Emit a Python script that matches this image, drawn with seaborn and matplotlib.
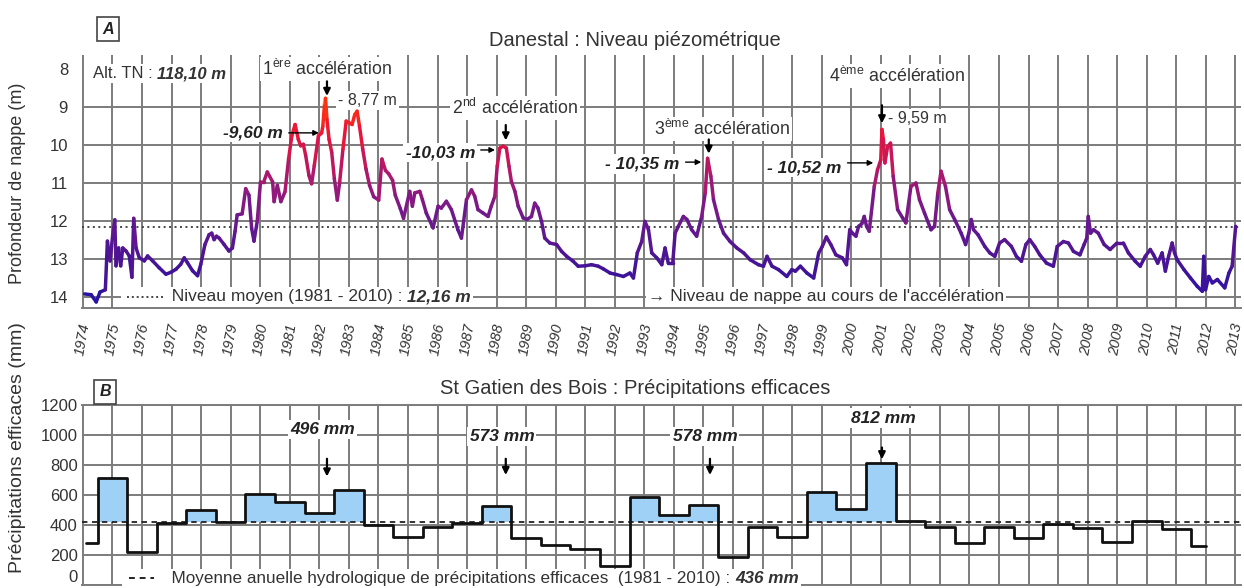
import numpy as np
import matplotlib
matplotlib.use("Agg")
import matplotlib.pyplot as plt
import seaborn as sns
from matplotlib.collections import LineCollection
from matplotlib.colors import LinearSegmentedColormap, Normalize

sns.set_theme(style="white")
plt.rcParams["font.family"] = ["Liberation Sans", "DejaVu Sans"]
plt.rcParams["mathtext.fontset"] = "custom"
plt.rcParams["mathtext.rm"] = "Liberation Sans"

# ==============================
# Data
# ==============================
# A) Danestal piezometer: depth of water table (m), decimal years
piezo_date = [
    1974.06, 1974.28, 1974.45, 1974.58, 1974.76, 1974.83, 1974.92, 1975.01, 1975.08, 1975.12,
    1975.21, 1975.28, 1975.35, 1975.46, 1975.57, 1975.66, 1975.72, 1975.80, 1975.91, 1976.08,
    1976.19, 1976.36, 1976.58, 1976.81, 1976.98, 1977.15, 1977.31, 1977.43, 1977.54, 1977.71,
    1977.88, 1977.99, 1978.13, 1978.27, 1978.36, 1978.44, 1978.52, 1978.61, 1978.78, 1978.94,
    1979.06, 1979.15, 1979.22, 1979.39, 1979.51, 1979.62, 1979.71, 1979.79, 1979.90, 1980.01,
    1980.12, 1980.24, 1980.42, 1980.47, 1980.58, 1980.70, 1980.84, 1980.96, 1981.07, 1981.18,
    1981.29, 1981.37, 1981.46, 1981.54, 1981.65, 1981.74, 1981.83, 1981.97, 1982.08, 1982.12,
    1982.18, 1982.21, 1982.26, 1982.33, 1982.42, 1982.51, 1982.61, 1982.69, 1982.80, 1982.91,
    1983.02, 1983.11, 1983.20, 1983.28, 1983.36, 1983.47, 1983.58, 1983.70, 1983.84, 1984.01,
    1984.12, 1984.24, 1984.35, 1984.48, 1984.57, 1984.74, 1984.85, 1985.06, 1985.15, 1985.23,
    1985.40, 1985.49, 1985.62, 1985.85, 1986.02, 1986.13, 1986.30, 1986.47, 1986.69, 1986.81,
    1986.98, 1987.15, 1987.26, 1987.37, 1987.54, 1987.71, 1987.82, 1987.94, 1988.02, 1988.11,
    1988.22, 1988.33, 1988.42, 1988.50, 1988.62, 1988.73, 1988.90, 1989.03, 1989.18, 1989.29,
    1989.40, 1989.52, 1989.63, 1989.80, 1990.03, 1990.20, 1990.37, 1990.59, 1990.76, 1990.99,
    1991.21, 1991.44, 1991.61, 1991.84, 1992.06, 1992.29, 1992.51, 1992.63, 1992.76, 1992.91,
    1993.02, 1993.14, 1993.25, 1993.42, 1993.59, 1993.70, 1993.81, 1993.96, 1994.04, 1994.15,
    1994.32, 1994.44, 1994.60, 1994.77, 1994.94, 1995.06, 1995.14, 1995.25, 1995.34, 1995.51,
    1995.68, 1995.90, 1996.13, 1996.36, 1996.58, 1996.86, 1997.03, 1997.15, 1997.32, 1997.54,
    1997.82, 1997.99, 1998.11, 1998.28, 1998.50, 1998.73, 1998.90, 1999.02, 1999.16, 1999.31,
    1999.48, 1999.70, 1999.84, 1999.95, 2000.04, 2000.16, 2000.25, 2000.36, 2000.44, 2000.52,
    2000.61, 2000.78, 2000.89, 2001.00, 2001.04, 2001.09, 2001.14, 2001.23, 2001.33, 2001.42,
    2001.57, 2001.74, 2001.85, 2002.02, 2002.19, 2002.31, 2002.48, 2002.70, 2002.82, 2002.93,
    2003.04, 2003.19, 2003.33, 2003.50, 2003.72, 2003.87, 2003.98, 2004.06, 2004.14, 2004.29,
    2004.52, 2004.69, 2004.86, 2005.02, 2005.19, 2005.42, 2005.59, 2005.76, 2005.91, 2006.04,
    2006.21, 2006.38, 2006.61, 2006.84, 2006.97, 2007.18, 2007.35, 2007.52, 2007.74, 2007.88,
    2007.97, 2008.02, 2008.10, 2008.20, 2008.36, 2008.56, 2008.76, 2008.99, 2009.21, 2009.38,
    2009.61, 2009.78, 2009.95, 2010.12, 2010.23, 2010.37, 2010.52, 2010.63, 2010.74, 2010.86,
    2010.94, 2011.03, 2011.26, 2011.48, 2011.71, 2011.88, 2011.93, 2011.99, 2012.10, 2012.22,
    2012.39, 2012.64, 2012.78, 2012.89, 2013.01,
]
piezo_depth = [
    13.92, 13.94, 14.13, 13.87, 13.81, 12.53, 13.05, 12.36, 11.97, 13.18,
    12.71, 13.18, 12.71, 12.79, 12.92, 13.48, 11.93, 12.71, 12.97, 13.05,
    12.92, 13.05, 13.23, 13.40, 13.35, 13.27, 13.14, 12.97, 13.10, 13.31,
    13.44, 13.14, 12.62, 12.36, 12.32, 12.49, 12.40, 12.45, 12.62, 12.79,
    12.71, 12.27, 11.84, 11.81, 11.15, 11.32, 12.19, 12.53, 12.01, 10.97,
    10.97, 10.71, 10.97, 11.49, 11.06, 11.49, 11.23, 10.37, 9.76, 9.46,
    9.85, 10.02, 9.98, 10.28, 10.80, 11.02, 10.54, 9.76, 9.68, 9.50,
    8.90, 8.77, 9.33, 9.85, 10.19, 10.89, 11.45, 10.97, 10.11, 9.37,
    9.42, 9.46, 9.20, 9.11, 9.50, 10.11, 10.63, 11.06, 11.36, 11.45,
    10.37, 10.67, 10.76, 10.93, 11.32, 11.67, 11.93, 11.22, 11.61, 11.26,
    11.22, 11.44, 11.79, 12.18, 11.61, 11.66, 11.48, 11.70, 12.23, 12.45,
    11.44, 11.18, 11.35, 11.70, 11.79, 11.88, 11.61, 11.35, 10.56, 10.08,
    10.03, 10.08, 10.56, 10.96, 11.22, 11.61, 11.92, 11.96, 11.88, 11.53,
    11.66, 12.01, 12.45, 12.58, 12.62, 12.80, 12.93, 13.06, 13.19, 13.18,
    13.15, 13.19, 13.26, 13.37, 13.41, 13.46, 13.37, 13.50, 12.84, 12.54,
    12.01, 12.23, 12.84, 12.97, 13.15, 12.71, 13.11, 13.11, 12.32, 12.14,
    11.88, 11.96, 12.23, 12.40, 11.88, 11.26, 10.35, 10.82, 11.44, 11.96,
    12.32, 12.54, 12.71, 12.84, 13.02, 13.15, 13.19, 12.93, 13.19, 13.28,
    13.46, 13.28, 13.32, 13.19, 13.37, 13.50, 12.84, 12.67, 12.42, 12.62,
    12.89, 12.97, 13.15, 12.23, 12.32, 12.40, 12.14, 12.07, 11.88, 12.14,
    12.27, 11.09, 10.65, 10.39, 9.59, 9.86, 10.47, 10.04, 9.95, 10.82,
    11.70, 11.92, 12.05, 11.09, 11.00, 11.44, 11.79, 12.23, 12.14, 11.26,
    10.69, 11.09, 11.70, 11.96, 12.32, 12.62, 12.32, 11.96, 12.23, 12.36,
    12.67, 12.84, 12.93, 12.58, 12.49, 12.67, 12.93, 13.06, 12.62, 12.49,
    12.67, 12.89, 13.11, 13.19, 12.67, 12.54, 12.58, 12.80, 12.89, 12.62,
    12.45, 11.88, 12.32, 12.23, 12.32, 12.62, 12.75, 12.58, 12.58, 12.84,
    13.06, 13.19, 12.93, 12.75, 12.89, 13.11, 12.84, 13.32, 12.93, 12.58,
    12.84, 13.02, 13.28, 13.50, 13.72, 13.85, 12.93, 13.81, 13.46, 13.63,
    13.54, 13.76, 13.37, 13.19, 12.14,
]
depth_mean = 12.16  # Niveau moyen 1981-2010

# B) St Gatien des Bois: effective rainfall per hydrological year (starts mid-year)
pe_year = list(range(1973, 2012))
pe_mm = [
    280, 715, 222, 412, 500, 418, 607, 551, 480, 633,
    400, 322, 389, 416, 525, 311, 267, 240, 127, 589,
    464, 535, 189, 384, 322, 622, 507, 816, 425, 389,
    278, 384, 311, 407, 378, 289, 425, 371, 260,
]
pe_first_start = 1974.1
pe_last_end = 2012.0
pe_mean_line = 418   # drawn dashed mean (labelled 436 mm)

years = list(range(1974, 2014))
depth_ticks = [8, 9, 10, 11, 12, 13, 14]
pe_ticks = [0, 200, 400, 600, 800, 1000, 1200]

# ==============================
# Figure / axes (pixel layout of the 1244x588 original)
# ==============================
W, H = 1244, 588
fig = plt.figure(figsize=(W / 100, H / 100), dpi=100)


def axes_px(x0, y0, x1, y1):
    return fig.add_axes([x0 / W, 1 - y1 / H, (x1 - x0) / W, (y1 - y0) / H])


ax1 = axes_px(82, 55, 1241, 308)
ax2 = axes_px(82, 405, 1241, 585)

GRID = "#7c7c7c"
TXT = "#333333"
WBOX = dict(facecolor="white", edgecolor="none", pad=1.5)
XLIM = (1973.97, 2013.19)

for ax in (ax1, ax2):
    ax.set_xlim(*XLIM)
    ax.set_xticks(years)
    ax.grid(True, color=GRID, lw=1.4)
    ax.set_axisbelow(True)
    for s in ax.spines.values():
        s.set_visible(False)

# ---- panel A ----
ax1.set_ylim(14.29, 7.63)
ax1.set_yticks(depth_ticks)
ax1.yaxis.get_major_ticks()[0].gridline.set_visible(False)
ax1.spines["bottom"].set_visible(True)
ax1.spines["bottom"].set_color(GRID)
ax1.spines["bottom"].set_linewidth(1.4)
ax1.set_xticklabels([str(y) for y in years], rotation=80, fontstyle="italic",
                    fontsize=10.5, color=TXT)
ax1.tick_params(axis="x", length=7, width=1.4, color=GRID, pad=3)
ax1.tick_params(axis="y", length=0, pad=10, labelsize=12, labelcolor=TXT)

cmap = LinearSegmentedColormap.from_list("piezo", [
    (0.00, "#ff9a00"), (0.05, "#ff3010"), (0.18, "#ec1438"), (0.38, "#b0186c"),
    (0.58, "#701a8c"), (0.80, "#4c1494"), (1.00, "#2a12a4")])
norm = Normalize(8.77, 14.0)
pts = np.column_stack([piezo_date, piezo_depth])
segs = np.stack([pts[:-1], pts[1:]], axis=1)
lc = LineCollection(segs, cmap=cmap, norm=norm, linewidths=2.5,
                    capstyle="round", joinstyle="round", zorder=5)
lc.set_array((pts[:-1, 1] + pts[1:, 1]) / 2)
ax1.add_collection(lc)

ax1.axhline(depth_mean, color="#444444", ls=(0, (1, 1.8)), lw=1.4, zorder=2)


def chain(ax, x, y, parts, size, ha="left"):
    """Write consecutive text pieces with different styles on one line."""
    t = ax.text(x, y, parts[0][0], ha=ha, va="center", fontsize=size, color=TXT,
                bbox=WBOX, zorder=4, **parts[0][1])
    prev = t
    for s, st in parts[1:]:
        prev = ax.annotate(s, xy=(1, 0), xycoords=prev, ha="left", va="bottom",
                           fontsize=size, color=TXT, bbox=WBOX, zorder=4, **st)
    return t


BI = dict(fontweight="bold", fontstyle="italic")
chain(ax1, 1974.35, 8.12, [("Alt. TN : ", {}), ("118,10 m", BI)], 12)

ord_txt = ["1$^{\\mathregular{ère}}$ accélération", "2$^{\\mathregular{nd}}$ accélération",
           "3$^{\\mathregular{ème}}$ accélération", "4$^{\\mathregular{ème}}$ accélération"]
ord_pos = [(1982.26, 8.0), (1988.62, 9.03), (1995.62, 9.58), (2001.55, 8.18)]
for s, (x, y) in zip(ord_txt, ord_pos):
    ax1.text(x, y, s, ha="center", va="center", fontsize=12.8, color=TXT, bbox=WBOX, zorder=4)

# arrows pointing down to the peaks
for x, y0, y1 in [(1982.26, 8.25, 8.78), (1988.31, 9.4, 9.95), (1995.18, 9.78, 10.3),
                  (2001.04, 8.88, 9.5)]:
    ax1.annotate("", xy=(x, y1), xytext=(x, y0),
                 arrowprops=dict(arrowstyle="-|>", color="black", lw=1.6,
                                 mutation_scale=10), zorder=6)

ax1.text(1982.63, 8.82, "- 8,77 m", ha="left", va="center", fontsize=11.5, color=TXT,
         bbox=WBOX, zorder=4)
ax1.text(2001.24, 9.3, "- 9,59 m", ha="left", va="center", fontsize=11.5, color=TXT,
         bbox=WBOX, zorder=4)

# start-of-acceleration levels
for s, x, y, xa, ya in [("-9,60 m", 1980.77, 9.68, 1982.08, 9.68),
                        ("-10,03 m", 1987.27, 10.2, 1988.04, 10.13),
                        ("- 10,35 m", 1994.2, 10.5, 1995.02, 10.45),
                        ("- 10,52 m", 1999.68, 10.6, 2000.84, 10.47)]:
    ax1.text(x, y, s, ha="right", va="center", fontsize=12.5, color="#222222",
             bbox=WBOX, zorder=4, **BI)
    ax1.annotate("", xy=(xa, ya), xytext=(x + 0.1, ya),
                 arrowprops=dict(arrowstyle="-|>", color="black", lw=1.0,
                                 mutation_scale=8), zorder=6)

# legend lines of panel A
chain(ax1, 1975.35, 14.0, [("          Niveau moyen (1981 - 2010) : ", {}), ("12,16 m", BI)],
      12.5)
ax1.plot([1975.5, 1976.7], [14.0, 14.0], color="#444444", ls=(0, (1, 1.5)), lw=1.4, zorder=6)
ax1.text(1993.12, 14.0, "→ Niveau de nappe au cours de l'accélération", ha="left",
         va="center", fontsize=12.5, color=TXT, bbox=WBOX, zorder=4)

# ---- panel B ----
ax2.set_ylim(0, 1200)
ax2.set_yticks(pe_ticks)
ax2.get_yticklabels()[0].set_va("bottom")
ax2.tick_params(axis="x", length=0, labelbottom=False)
ax2.tick_params(axis="y", length=0, pad=3, labelsize=12, labelcolor=TXT)
for side in ("top", "bottom"):
    ax2.spines[side].set_visible(True)
    ax2.spines[side].set_color(GRID)
    ax2.spines[side].set_linewidth(1.4)

starts = np.array(pe_year, dtype=float) + 0.5
starts[0] = pe_first_start
x_edges = np.append(starts, pe_last_end)
y_steps = np.append(pe_mm, pe_mm[-1])
ax2.fill_between(x_edges, pe_mean_line, np.maximum(y_steps, pe_mean_line), step="post",
                 color="#9fd0f6", lw=0, zorder=2)
ax2.axhline(pe_mean_line, color="#222222", ls=(0, (3, 2.5)), lw=1.3, zorder=3)
sns.lineplot(x=x_edges, y=y_steps, drawstyle="steps-post", color="#111111", lw=2.0,
             ax=ax2, zorder=5)
ax2.set_xlabel("")
ax2.set_ylabel("")

for s, x, y in [("496 mm", 1982.12, 1035), ("573 mm", 1988.18, 990),
                ("578 mm", 1995.05, 990), ("812 mm", 2001.1, 1113)]:
    ax2.text(x, y, s, ha="center", va="center", fontsize=12.5, color="#222222",
             bbox=WBOX, zorder=4, **BI)
for x, y0, y1 in [(1982.26, 860, 705), (1988.31, 860, 715), (1995.22, 860, 715),
                  (2001.04, 935, 820)]:
    ax2.annotate("", xy=(x, y1), xytext=(x, y0),
                 arrowprops=dict(arrowstyle="-|>", color="black", lw=1.6,
                                 mutation_scale=10), zorder=6)

chain(ax2, 1975.4, 45, [("          Moyenne anuelle hydrologique de précipitations efficaces  "
                         "(1981 - 2010) : ", {}), ("436 mm", BI)], 12.3)
ax2.plot([1975.55, 1976.4], [45, 45], color="#222222", ls=(0, (3, 2.5)), lw=1.4, zorder=6)

# ---- titles, panel letters, axis labels ----
fig.text(635 / W, 1 - 40 / H, "Danestal : Niveau piézométrique", ha="center", va="center",
         fontsize=14.5, color=TXT)
fig.text(635 / W, 1 - 388 / H, "St Gatien des Bois : Précipitations efficaces", ha="center",
         va="center", fontsize=14.5, color=TXT)
for s, x, y in [("A", 108, 29), ("B", 105, 392)]:
    fig.text(x / W, 1 - y / H, s, ha="center", va="center", fontsize=11.5, color="#222222",
             bbox=dict(boxstyle="square,pad=0.3", fc="white", ec="#444444", lw=1.2), **BI)
fig.text(18 / W, 1 - 183 / H, "Profondeur de nappe (m)", rotation=90, ha="center",
         va="center", fontsize=13, color=TXT)
fig.text(18 / W, 1 - 448 / H, "Précipitations efficaces (mm)", rotation=90, ha="center",
         va="center", fontsize=14, color=TXT)

fig.savefig("out.png", dpi=100)
